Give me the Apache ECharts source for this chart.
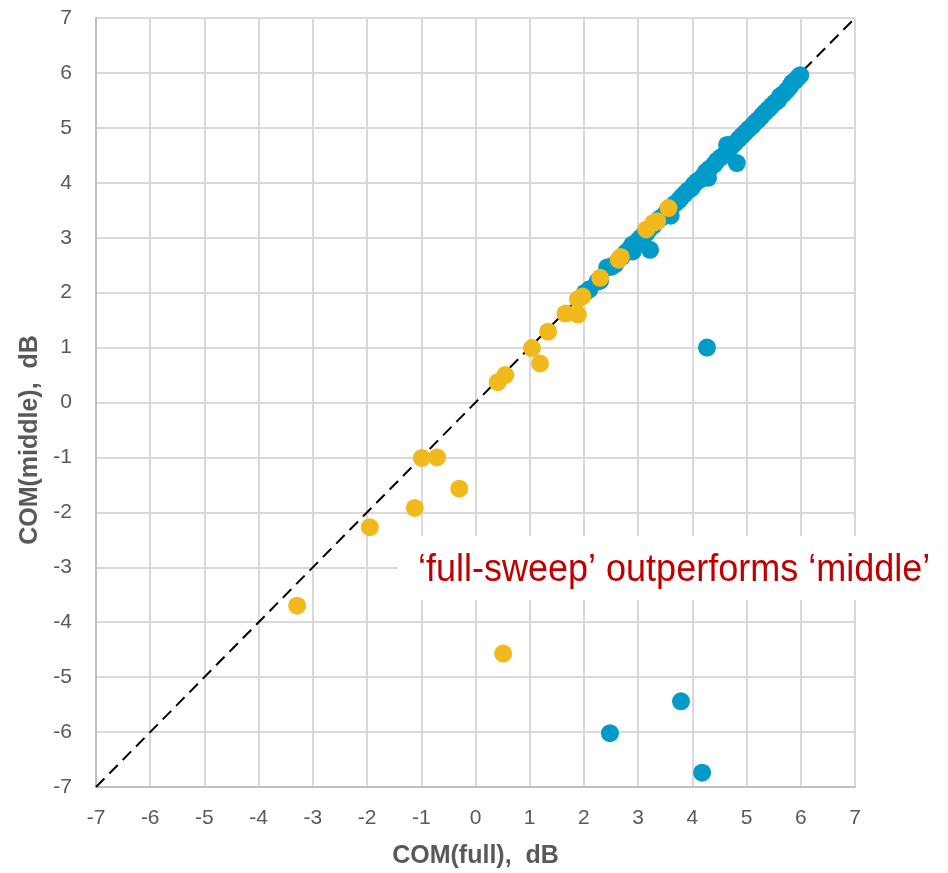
<!DOCTYPE html>
<html>
<head>
<meta charset="utf-8">
<script src="https://cdn.jsdelivr.net/npm/echarts@6/dist/echarts.min.js"></script>
<style>
  html, body { margin: 0; padding: 0; background: #fff; }
  #main { width: 948px; height: 873px; }
</style>
</head>
<body>
<div id="main"></div>
<script>
// axis range and ticks
var axisMin = -7;
var axisMax = 7;
var tickStep = 1;

// diagonal reference y = x
var diagonal = [[-7, -7], [7, 7]];

// COM(full), COM(middle) pairs - blue series
var bluePoints = [
  [2.02, 2.00], [2.10, 2.06], [2.25, 2.20], [2.30, 2.22], [2.43, 2.46], [2.50, 2.47],
  [2.58, 2.52], [2.70, 2.65], [2.78, 2.74], [2.85, 2.80], [2.89, 2.87], [2.90, 2.75],
  [2.95, 2.90], [3.00, 2.95], [3.05, 3.00], [3.10, 3.05], [3.15, 3.08], [3.22, 2.78],
  [3.20, 3.15], [3.28, 3.22], [3.35, 3.30], [3.40, 3.35], [3.45, 3.38], [3.52, 3.46],
  [3.58, 3.52], [3.60, 3.40], [3.60, 3.55], [3.68, 3.62], [3.75, 3.68], [3.80, 3.74],
  [3.86, 3.80], [3.92, 3.86], [3.98, 3.90], [4.03, 3.97], [4.08, 4.02], [4.14, 4.06],
  [4.20, 4.12], [4.29, 4.09], [4.25, 4.20], [4.32, 4.26], [4.40, 4.33], [4.45, 4.40],
  [4.52, 4.46], [4.58, 4.50], [4.64, 4.69], [4.65, 4.58], [4.72, 4.66], [4.82, 4.36],
  [4.78, 4.72], [4.86, 4.80], [4.92, 4.86], [4.98, 4.92], [5.04, 4.98], [5.10, 5.03],
  [5.16, 5.10], [5.22, 5.15], [5.28, 5.22], [5.34, 5.28], [5.40, 5.34], [5.46, 5.40],
  [5.52, 5.46], [5.58, 5.50], [5.62, 5.58], [5.68, 5.62], [5.74, 5.68], [5.80, 5.75],
  [5.84, 5.82], [5.90, 5.86], [5.95, 5.92], [5.99, 5.96],
  [4.27, 1.00], [2.48, -6.02], [3.79, -5.44], [4.18, -6.74]
];

// yellow series
var yellowPoints = [
  [-3.29, -3.70], [-1.95, -2.27], [-1.12, -1.92], [-0.99, -1.01], [-0.71, -1.00],
  [-0.30, -1.57], [0.51, -4.57], [0.41, 0.37], [0.55, 0.50], [1.04, 0.99],
  [1.19, 0.71], [1.34, 1.29], [1.66, 1.62], [1.89, 1.60], [1.89, 1.88],
  [1.97, 1.93], [2.30, 2.27], [2.64, 2.60], [2.68, 2.65], [3.15, 3.15],
  [3.28, 3.27], [3.35, 3.30], [3.56, 3.54]
];

var xTitle = 'COM(full),  dB';
var yTitle = 'COM(middle),  dB';
var note = '\u2018full-sweep\u2019 outperforms \u2018middle\u2019';

var chartDom = document.getElementById('main');
var myChart = echarts.init(chartDom, null, { renderer: 'canvas' });

var fontFam = 'Liberation Sans, Arial, sans-serif';
var labelStyle = {
  color: '#595959',
  fontSize: 21,
  fontFamily: fontFam
};

var option = {
  animation: false,
  backgroundColor: '#fff',
  grid: { left: 96, right: 93, top: 18, bottom: 86, outerBoundsMode: 'none' },
  xAxis: {
    type: 'value',
    min: axisMin,
    max: axisMax,
    interval: tickStep,
    name: xTitle,
    nameLocation: 'middle',
    nameGap: 57,
    nameTextStyle: {
      color: '#595959',
      fontSize: 25,
      fontWeight: 'bold',
      fontFamily: fontFam
    },
    axisLine: { show: true, onZero: false, lineStyle: { color: '#bfbfbf', width: 2 } },
    axisTick: { show: false },
    axisLabel: Object.assign({ margin: 21 }, labelStyle),
    splitLine: { show: true, lineStyle: { color: '#d9d9d9', width: 2 } }
  },
  yAxis: {
    type: 'value',
    min: axisMin,
    max: axisMax,
    interval: tickStep,
    axisLine: { show: true, onZero: false, lineStyle: { color: '#bfbfbf', width: 2 } },
    axisTick: { show: false },
    axisLabel: Object.assign({ margin: 24 }, labelStyle),
    splitLine: { show: true, lineStyle: { color: '#d9d9d9', width: 2 } }
  },
  series: [
    {
      type: 'line',
      data: diagonal,
      symbol: 'none',
      silent: true,
      lineStyle: { color: '#000', width: 2, type: [12, 7] },
      z: 2
    },
    {
      type: 'scatter',
      data: bluePoints,
      symbolSize: 18,
      itemStyle: { color: '#009bc8', opacity: 1 },
      z: 3
    },
    {
      type: 'scatter',
      data: yellowPoints,
      symbolSize: 18,
      itemStyle: { color: '#f2b91c', opacity: 1 },
      z: 4
    }
  ],
  graphic: [
    {
      type: 'text',
      x: 30,
      y: 440,
      rotation: Math.PI / 2,
      style: {
        text: yTitle,
        fill: '#595959',
        fontSize: 25,
        fontWeight: 'bold',
        fontFamily: fontFam,
        align: 'center',
        verticalAlign: 'middle'
      },
      z: 10
    },
    {
      type: 'rect',
      shape: { x: 398, y: 536, width: 560, height: 64 },
      style: { fill: '#fff' },
      z: 10
    },
    {
      type: 'text',
      x: 418,
      y: 570,
      scaleY: 1.1,
      style: {
        text: note,
        fill: '#c00000',
        fontSize: 36,
        fontFamily: fontFam,
        align: 'left',
        verticalAlign: 'middle'
      },
      z: 11
    }
  ]
};

option && myChart.setOption(option);
</script>
</body>
</html>
